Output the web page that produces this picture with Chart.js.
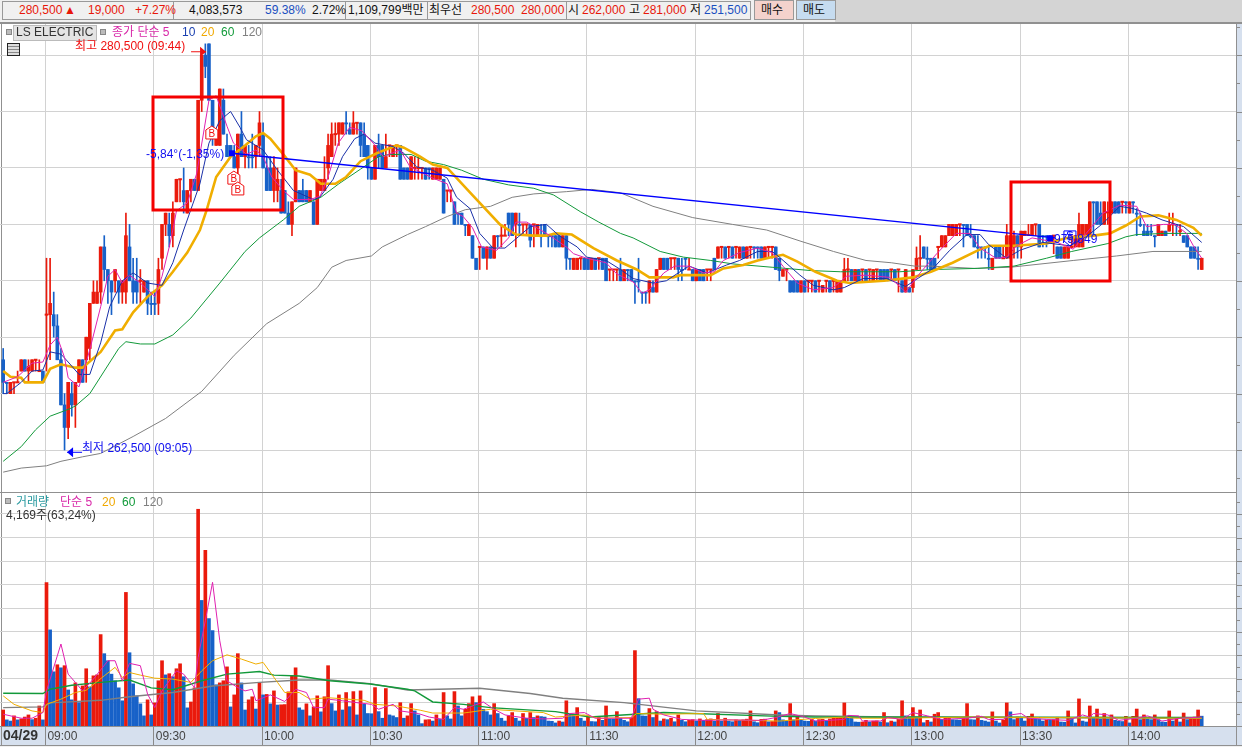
<!DOCTYPE html>
<html lang="ko"><head><meta charset="utf-8">
<script src="https://cdn.jsdelivr.net/npm/chart.js@4"></script>
<style>
html,body{margin:0;padding:0;background:#f0f0f0;width:1242px;height:747px;overflow:hidden}
body{position:relative;font:12px "Liberation Sans","Noto Sans CJK KR",sans-serif}
.a{position:absolute;white-space:nowrap;line-height:14px;height:14px}
.box{position:absolute}
canvas{position:absolute;left:0}
.r{color:#e8170a}.u{color:#1a4fc0}.k{color:#111}
</style></head><body>
<!-- panels -->
<div class="box" style="left:835px;top:0;width:407px;height:22px;background:#d4d4d4"></div>
<div class="box" style="left:0;top:22px;width:1242px;height:2px;background:#909090"></div>
<div class="box" style="left:0;top:24px;width:1237px;height:703px;background:#fff"></div>
<div class="box" style="left:1237px;top:24px;width:5px;height:721px;background:#d6e0ee"></div>
<div class="box" style="left:0;top:727px;width:1242px;height:18px;background:#d6e0ee"></div>
<div class="box" style="left:1px;top:24px;width:1px;height:721px;background:#909090"></div>
<div class="box" style="left:1236px;top:24px;width:1px;height:721px;background:#909090"></div>
<div class="box" style="left:0;top:745px;width:1242px;height:1px;background:#909090"></div>
<!-- toolbar cells -->
<div class="box" style="left:2px;top:1px;width:170px;height:17px;border:1px solid #999;background:#f0f0f0"></div>
<div class="box" style="left:173px;top:1px;width:171px;height:17px;border:1px solid #999;background:#f0f0f0"></div>
<div class="box" style="left:345px;top:1px;width:81px;height:17px;border:1px solid #999;background:#f0f0f0"></div>
<div class="box" style="left:427px;top:1px;width:139px;height:17px;border:1px solid #999;background:#f0f0f0"></div>
<div class="box" style="left:566px;top:1px;width:183px;height:17px;border:1px solid #999;background:#f0f0f0"></div>
<div class="box" style="left:754px;top:0;width:38px;height:18px;border:1px solid #999;background:#f4d2cc"></div>
<div class="box" style="left:796px;top:0;width:38px;height:18px;border:1px solid #999;background:#c6dcf0"></div>
<span class="a r" style="left:19px;top:3px">280,500</span><span class="a r" style="left:64px;top:3px">▲</span>
<span class="a r" style="left:88px;top:3px">19,000</span><span class="a r" style="left:135px;top:3px">+7.27%</span>
<span class="a k" style="left:189px;top:3px">4,083,573</span><span class="a u" style="left:265px;top:3px">59.38%</span>
<span class="a k" style="left:312px;top:3px">2.72%</span><span class="a k" style="left:348px;top:3px">1,109,799백만</span>
<span class="a k" style="left:429px;top:3px">최우선</span><span class="a r" style="left:471px;top:3px">280,500</span>
<span class="a r" style="left:521px;top:3px">280,000</span><span class="a k" style="left:568px;top:3px">시</span>
<span class="a r" style="left:582px;top:3px">262,000</span><span class="a k" style="left:629px;top:3px">고</span>
<span class="a r" style="left:643px;top:3px">281,000</span><span class="a k" style="left:690px;top:3px">저</span>
<span class="a u" style="left:704px;top:3px">251,500</span>
<span class="a k" style="left:761px;top:3px">매수</span><span class="a k" style="left:803px;top:3px">매도</span>

<canvas id="priceChart" width="1242" height="468" style="top:24px;z-index:1"></canvas>
<canvas id="volChart" width="1242" height="252" style="top:493px;z-index:1"></canvas>
<div class="box" style="left:0;top:492px;width:1237px;height:1px;background:#909090;z-index:2"></div>
<div class="box" style="left:0;top:726px;width:1242px;height:1px;background:#909090;z-index:2"></div>

<!-- legends and labels -->
<div style="position:absolute;left:0;top:0;z-index:3">
<div class="box" style="left:6px;top:29px;width:4px;height:4px;border:1px solid #888;background:#bbb"></div>
<div class="box" style="left:13px;top:25px;width:82px;height:14px;border:1px solid #bbb;background:#e4e4e4"></div>
<span class="a" style="left:16px;top:25px;color:#333">LS ELECTRIC</span>
<div class="box" style="left:100px;top:29px;width:4px;height:4px;border:1px solid #888;background:#bbb"></div>
<span class="a" style="left:112px;top:25px;color:#d828a8">종가 단순 5</span>
<span class="a" style="left:182px;top:25px;color:#1a40b0">10</span>
<span class="a" style="left:201px;top:25px;color:#f0a800">20</span>
<span class="a" style="left:221px;top:25px;color:#129a3a">60</span>
<span class="a" style="left:242px;top:25px;color:#808080">120</span>
<div class="box" style="left:7px;top:43px;width:11px;height:11px;border:1px solid #222;background:repeating-linear-gradient(#ddd 0 2px,#888 2px 3px)"></div>
<span class="a" style="left:75px;top:39px;color:#f01010">최고 280,500 (09:44)</span>
<span class="a" style="left:82px;top:441px;color:#1010f0">최저 262,500 (09:05)</span>
<span class="a" style="left:146px;top:147px;color:#1010f0">-5,84°(-1,35%)</span>
<span class="a" style="left:1054px;top:232px;color:#1010f0">975,849</span>
<div class="box" style="left:5px;top:498px;width:4px;height:4px;border:1px solid #888;background:#bbb"></div>
<span class="a" style="left:16px;top:495px;color:#2a9aa0">거래량</span>
<span class="a" style="left:60px;top:495px;color:#d828a8">단순 5</span>
<span class="a" style="left:102px;top:495px;color:#f0a800">20</span>
<span class="a" style="left:122px;top:495px;color:#129a3a">60</span>
<span class="a" style="left:143px;top:495px;color:#808080">120</span>
<span class="a" style="left:6px;top:508px;color:#333">4,169주(63,24%)</span>
<span class="a" style="left:3px;top:728px;color:#333;font-weight:bold;font-size:14px">04/29</span>
</div>

<script>
// Time axis: minutes after 09:00
const firstMinute = -12;
const timeTicks = [0,30,60,90,120,150,180,210,240,270,300];
const timeLabels = ["09:00","09:30","10:00","10:30","11:00","11:30","12:00","12:30","13:00","13:30","14:00"];
const priceTicks = [262.5,265,267.5,270,272.5,275,277.5,280];  // thousand won
const volTicks = [10,20,30,40,50,60,70,80,90];                 // thousand shares

const opens = [
266.5,265.5,265,265.5,265.5,266,266.5,266,266,266.5,
266,266,268.5,268.5,268.5,268,266.5,264.5,263.5,265,
264.5,265.5,266.5,266.5,267,269,269,269.5,271.5,270.5,
270,270,270,269.5,269.5,271.5,270,270,270,269.5,
270,269,269,269,271,272.5,272.5,272,273.5,274.5,
274,273,274,274.5,274,278,280,280.5,278,276,
276,278,276,276,275.5,275,276.5,275.5,275.5,275.5,
275.5,276,276.5,275,275,274,274,274,274,273,
272.5,273.5,274,274,274,273.5,273.5,272.5,274,274,
275,275.5,276.5,276.5,276.5,277,276.7,276.5,277,277,
276.5,276,275,274.5,276,276,275,276,275.5,276,
276,275,275,274.5,275,275,275,275,275,274.5,
274.5,274.5,274.5,274,274,273.5,273,273,272.5,272,
272,271,271.5,271.5,271,271.5,271,272,272,272,
273,273,272.5,272.5,272.5,272.5,272.5,272.5,272,272,
272.5,272,272,272,272,271.5,272,271,270.5,270.5,
271,271,271,270.5,271,271,271,271,270.5,270.5,
270.5,270.5,270,270.5,270.5,270,270,269.5,269.5,269.5,
269.7,269.5,270.5,271,271,271,271,271,270.5,271,
270.5,270.5,270,270.5,270.5,270.5,270.5,271,271,271.5,
271.5,271.5,271.5,271.5,271,271.5,271,271.5,271.5,271.5,
271.5,271,271.5,271.5,271.5,271,270.2,270.5,270,270,
270,269.5,270,270,270,270,270,269.5,270,270,
270,269.5,269.5,270,270.5,270.5,270,270.5,270.5,270.5,
270.5,270,270.5,270.5,270.5,270.5,270.5,270.5,270.5,270,
269.5,269.7,269.7,270.5,271,271.5,271,271,271,271.5,
271.5,271.5,272,272,272,272.5,272.5,272.5,272,272,
271.5,271.5,271.5,271,270.5,271.5,271.5,271,271,271,
271.5,272,271.5,272,272,272,272.5,272.5,272,272,
272,272,271.5,271.5,271,271,271.5,271.5,271.5,271.5,
272,272,273.5,273.5,273,272.5,273,273,273.5,273.5,
273.5,273.5,273,273.5,273,272.5,272.2,272.2,272.2,272,
272,272,272.2,272.2,272.5,272.5,272.2,272,272,271.5,
271.5,271,270.5];
const highs = [
267,265.5,265.5,265.5,266,266.5,266.5,266.5,266.5,266.5,
266.5,266,271,271,269.5,268.5,267,265,265.5,265.5,
265.5,266.5,266.5,267.5,269,270,270,271.5,272,270.5,
270,270.5,270,270,273,272.5,271,271,270.5,270,
270,269.5,269.5,271,272.5,273,273,273.5,274.5,274.5,
275,274,274.5,274.5,278,280,280.5,280.5,278,276.5,
278.5,278.5,276.5,276,276,276.5,277.5,276,276,276.5,
276,277.5,277,275.5,275.5,275.5,275,274.5,274,273.5,
273.5,275,274,274.5,274,274,273.5,274.5,274.5,275.5,
276.5,277,277,277,277,277.5,277,277.5,277,277,
277,276,275,276,276.5,276,276.5,276,276,276,
276,275,275,275.5,275.5,275.5,275,275,275,275,
275,275,274.5,274,274,273.5,273,273,272.5,272.5,
272,271,271.5,271.5,271.5,271.5,272,272,272.5,272.5,
273,273,273,273,272.5,272.5,272.5,272.5,272.5,272.5,
272.5,272,272,272,272,272,272,271,271,271,
271,271,271,271,271,271,271,271,270.5,270.5,
270.5,271,270.5,270.5,270.5,270,271,269.5,269.5,270,
270,270.5,271,271,271,271,271,271,271,271,
271,270.5,270.5,270.5,270.5,270.5,270.5,271,271.5,271.5,
271.5,271.5,271.5,271.5,271.5,271.5,271.5,271.5,271.5,271.5,
271.5,271.5,271.5,271.5,271.5,271,270.5,270.5,270,270,
270,270,270,270,270,270,270,269.8,270,270,
270,270,270,271,271,270.5,270.5,270.5,270.5,270.5,
270.5,270.5,270.5,270.5,270.5,270.5,270.5,270.5,270.5,270,
270.5,269.7,270.5,271.5,272,271.5,271.5,271,271,271.5,
272,272,272.5,272.5,272.5,272.5,272.5,272.5,272.5,272,
272,271.5,271.5,271.5,271,271.5,271.5,271.5,272.5,272,
272.2,272,272.2,272.2,272.5,272.5,272.5,272.5,272,272,
272,272,271.5,271.5,271.5,271.5,272,272,273,272.5,
272.5,273.5,273.5,273.5,273.5,273.5,273.5,273.5,273.5,273.5,
273.5,273.5,273.5,273.5,273.2,273,272.5,272.5,272.5,272,
272.5,272.2,272.2,273,273,272.5,272.5,272,272,271.5,
271.5,271.5,271];
const lows = [
265,265,265,265,265.5,266,266,265.5,266,266,
266,265.5,266,266.5,267.5,266.5,264.5,262.5,263,264,
263.5,265.5,265.5,265.5,266.5,269,269,269,270,269,
268.5,269.5,269,269,269,270,269,269,269,269.5,
268.5,268.5,268.5,268.5,270.5,272,271.5,271.5,273.5,273.5,
273,273,273.5,274,274,277.5,279,278,276,276,
276,276.5,275.5,275.5,275,274.5,275.5,275,275,275,
275,275.5,275,274,274,273.5,273.5,273,273,272.5,
272,273.5,273.5,273.5,273.5,273.5,272.5,272.5,274,274,
274.5,275.5,276,276,276.5,276.5,276.5,276.5,276.5,275.5,
275.5,274.5,274.5,274.5,275,275,275,275.5,275.5,275.5,
274.5,274.5,274.5,274.5,274.5,274.5,274.5,274.5,274.5,274.5,
274.5,274.5,273,273.5,273.5,272.5,272.5,272.5,272,272,
271,270.5,270.5,271,270.5,271,271,271.5,271.5,272,
272,272,271.5,272,272,272,271.5,271.5,272,271.5,
272,271.5,271.5,271.5,271.5,271.5,270.5,270.5,270.5,270.5,
270.5,270.5,270.5,270.5,270.5,270.5,270.5,270,270,270,
270,270,270,270,270,269,269.5,269,269,269,
269.5,269.5,270.5,270.5,270.5,270.5,270.5,270,270,270.5,
270.5,270,270,270,270,270,270,270.5,271,271,
271,271,271,271,271,271,271,271,271,271,
271,271,271,271,270.5,270,270.2,270,269.5,269.5,
269.5,269.5,269.5,269.5,269.5,269.5,269.5,269.5,269.5,269.5,
269.5,269.5,269.5,270,270,270,270,270,270,270,
270,270,270,270,270,270,270,270,269.5,269.5,
269.5,269.5,269.5,270.5,270.5,271,270.5,270.5,270.5,271,
271.5,271.5,272,272,272,272,271.5,272,271.9,271.5,
271,271,271,270.5,270.5,271,271,271,271,271,
271,271,271,272,272,272,272,271.5,271.5,271.5,
271.7,271.2,271,271,271,271,271.5,271.5,271.5,271.5,
272,272,272,272.5,272.5,272.5,272.5,273,273,273,
273,273,273,273,272,272.4,272,272,272,271.5,
272,272,272,272.2,272,272,272,271.7,271.5,271,
271,270.5,270.5];
const closes = [
265.5,265.45,265.5,265.5,265.5,266.5,266,266.2,266.5,266.5,
266,265.5,268.5,269,268,266.5,264.5,263.5,265.5,264.5,
265.5,266.5,265.5,267.5,269,269.5,269.5,271.5,270.5,270,
269.5,270.5,269.5,270,272,270,269.5,269.5,270,270,
269,268.95,268.95,270.5,272.5,273,272,273,274.5,274.5,
273.5,274,274.5,274,278,280,279.5,278,276.5,276.5,
278.5,276.5,275.5,275.5,275,276.5,275.5,276,275.45,275.45,
276,277,275,274,274,275,274.5,273,273,272.5,
273.5,275,273.5,273.5,273.5,274,272.5,274.5,274.5,274.5,
276,276.5,276.5,277,277,276.95,276.5,277,277,276,
275.5,275,274.5,276,275.5,275,275.5,276,276,276,
274.5,274.5,274.5,275.5,275,275,275,274.5,274.95,275,
275,275,273,274,274,272.5,272.95,272.5,272.45,272.5,
271,270.5,271.5,271,271.5,271,272,271.95,272,272,
272.5,272,273,272.45,272.5,272.5,271.8,272.5,272.5,271.95,
272,271.95,271.95,271.5,271.5,272,271,270.95,271,271,
271,270.5,270.5,271,270.5,271,270.5,270,270.5,270.5,
270.5,270,270.5,270.45,270,269.95,269.95,269.45,269.45,270,
269.5,270.5,271,270.5,270.5,271,271,270.5,270.45,270.95,
270.5,270,270.5,270,270,270.5,270.5,270.5,271.5,271.5,
271,271.5,271,271.5,271.5,271,271.5,271.5,271.45,271.45,
271,271.5,271.5,271.5,270.5,270.45,270.5,270.5,269.5,269.5,
269.5,270,269.5,270,270,269.5,270,269.8,270,269.5,
270,270,270,270.5,270.5,270,270.5,270,270.5,270,
270.5,270.5,270.5,270,270,270,270.5,270,270.5,269.5,
270.5,269.5,270.5,271,271,271,270.95,270.5,270.5,271.5,
272,272,272.5,272.5,272.5,272.5,272.45,272,271.95,271.5,
271.45,271.45,271.45,270.95,271,271,271,271,272,272,
272,271.5,272.2,272.2,272.05,272.5,272.5,271.5,271.95,271.95,
271.7,272,271,271,271.5,271.5,271.5,272,272.5,272.5,
272.5,273.5,273.45,272.5,272.5,273.5,273.05,273.5,273,273,
273.5,273.45,273.5,273.45,272.95,272.45,272,272,272.15,271.95,
272.5,272.2,272,272.5,272.5,272.45,272.2,271.7,271.5,271,
271,270.95,271];
const volumes = [
6.8,2.6,2.1,4.3,2.6,3.0,3.8,4.7,2.7,3.3,
8.5,2.6,60.9,40.8,23.0,26.0,24.7,25.6,15.3,11.1,
18.3,9.9,17.0,24.3,16.6,21.3,21.7,38.8,30.7,27.7,
22.0,19.2,16.2,10.7,56.7,31.1,17.9,12.8,9.4,4.3,
11.1,4.7,9.8,19.2,27.7,21.7,22.2,20.9,24.3,26.4,
20.9,7.7,10.2,16.2,92.0,53.3,74.6,45.6,40.5,17.5,
18.3,19.2,25.1,8.1,13.2,30.7,18.3,6.8,11.1,12.4,
7.2,18.3,13.2,13.4,9.4,14.9,8.9,9.0,9.1,14.5,
21.3,24.7,7.7,6.8,9.4,4.3,8.1,12.8,6.0,12.4,
25.6,9.5,6.4,13.2,6.8,14.2,8.2,14.6,4.7,14.9,
9.2,5.3,5.2,16.3,6.1,3.3,15.9,4.7,4.3,3.6,
9.9,3.3,4.3,9.5,6.4,4.7,1.0,2.6,2.7,2.1,
4.7,2.8,14.2,4.3,3.0,14.6,8.5,4.3,7.1,9.5,
12.4,9.9,12.8,7.1,6.1,4.7,9.5,5.3,3.3,2.1,
4.3,5.7,3.3,2.1,5.3,3.3,5.7,3.6,4.3,4.0,
3.8,2.1,2.0,1.3,2.1,1.7,10.7,5.0,4.9,7.8,
3.3,2.1,4.3,1.9,1.8,3.6,2.4,8.5,3.0,2.9,
6.1,3.3,2.4,1.8,3.6,32.0,11.6,4.3,4.2,7.4,
3.6,6.1,2.1,3.0,2.7,3.3,1.8,4.7,2.4,1.8,
2.4,2.7,2.1,3.0,2.4,2.7,3.0,2.0,5.3,2.1,
3.3,2.1,1.8,2.6,2.4,2.6,2.9,6.4,1.8,1.4,
2.8,2.9,1.8,1.9,6.4,5.7,2.6,2.1,9.5,2.6,
4.3,2.4,2.1,2.0,2.8,2.1,2.7,2.8,2.1,3.0,
3.3,3.4,3.5,9.8,4.3,3.8,1.7,1.6,1.7,2.4,
1.7,2.1,2.2,1.7,5.7,1.4,2.1,1.7,2.8,10.7,
4.3,3.8,7.8,3.8,6.8,1.4,2.4,1.7,5.0,5.7,
2.8,3.3,3.4,2.7,2.6,2.5,3.3,9.5,2.7,2.6,
4.3,2.4,2.1,1.7,6.0,2.1,1.3,2.6,9.8,6.0,
2.7,3.8,3.3,2.1,4.1,5.1,3.0,2.9,2.1,2.6,
2.4,2.7,3.7,1.7,1.6,6.4,3.3,1.3,11.5,2.1,
1.7,8.5,3.3,7.2,3.0,5.3,3.0,4.7,2.4,2.1,
1.9,4.1,1.3,4.1,7.2,2.7,4.7,3.0,2.7,4.7,
2.7,1.7,1.6,6.4,2.1,3.3,1.7,5.5,2.7,3.3,
3.8,6.8,4.169];

// Moving averages: [minute, price]
const ma5 = [[-12,265.5],[-8,265.75],[-4,266.35],[-1,266.4],[1,267.15],[3,267.5],[5,266.6],[6,265.7],[9,265.3],[12,266.95],[15,268.85],[17,270.2],[19,270.5],[21,269.9],[23,270.25],[26,269.9],[30,269.3],[32,270.2],[34,271.5],[35,272.25],[36,273.1],[39,273.45],[41.6,274.75],[43.5,276.55],[45,278],[47,278.2],[50,276.85],[51.8,276.1],[55.4,275.6],[58,275.8],[60,275.5],[62.4,274.6],[65.6,274],[68.4,273.6],[73,273.6],[75.8,273.75],[78,274.6],[80.8,276.1],[84,276.8],[87.3,276.65],[90.5,276.1],[93.3,275.5],[98,275.8],[100.7,275.05],[107,274.55],[111,274.3],[113.6,273],[115.4,272.85],[118,272.35],[120.5,271.5],[124.7,271.35],[128,271.9],[130,272.6],[133,272.6],[135.8,272.35],[139.5,272],[144,271.5],[146,271.2],[149.6,271],[155,270.8],[158,270.3],[162.5,269.95],[165,269.45],[167,269.6],[171,270.35],[174,270.65],[178,270.65],[182,270.35],[185,270.4],[187.5,270.9],[192,271.25],[197,271.45],[201,271.25],[204,270.65],[208,269.9],[212.4,269.6],[218,269.7],[221.6,270.2],[227,270.25],[233.6,270.15],[238,269.5],[242,270.35],[246.6,271.2],[252,272.1],[255.8,272.1],[258.6,271.45],[263,271],[266,271.05],[268.7,271.55],[273,271.9],[280,271.7],[284.4,271.4],[288,272.1],[292.7,273],[297.3,273.35],[302,273.3],[304.7,272.4],[309.4,272.5],[312.6,272.5],[315.8,272.1],[317.7,271.55],[320,271]];
const ma10 = [[-12,265],[-11,265],[-7,265.5],[-4,266],[-1,266.05],[1,266.85],[4,266.75],[6,266.4],[9,265.85],[12,265.85],[15,267.25],[17.5,268.85],[21,270],[24,270.35],[28,269.9],[32,269.8],[35,270.8],[38,272.25],[42.5,274.3],[45,276.1],[48,277.1],[51,277.5],[53.6,276.8],[55.4,276.25],[60,275.8],[64,274.9],[68.4,274],[74,273.6],[75.7,273.7],[79.4,274.5],[82,275.5],[85.4,276.3],[88,276.5],[91,276.1],[96,275.95],[99,275.65],[102.5,275.05],[107,274.9],[111,274.55],[113.6,273.7],[117.3,273.2],[120,272.1],[123.7,271.45],[127,271.45],[130.7,271.95],[134,272.4],[138.5,272.5],[142,272],[147,271.5],[149.6,271.05],[155,270.9],[159,270.5],[162.5,270.1],[168,269.9],[171.7,270],[175.5,270.4],[178,270.65],[183,270.35],[188.4,270.7],[192,270.9],[197,271.3],[201,271.3],[203,271.05],[208.7,270.25],[212.4,269.8],[218,269.6],[221,269.7],[226.2,270.1],[232.7,270.1],[238,269.75],[245.6,270.55],[250.2,271.35],[255,272.05],[258.6,272.05],[261,271.6],[266,271],[269.6,271.35],[276,271.7],[283.5,271.55],[288,271.95],[292.7,272.55],[297.3,273.3],[301,273.2],[304.7,273],[309,272.7],[315,272.4],[320,271.7]];
const ma20 = [[-12,266],[-10,265.75],[-7,265.7],[-6,265.5],[-1,265.5],[1,266.1],[4,266.3],[8,266.15],[10,266.15],[15,266.85],[19,267.8],[21,267.85],[24,268.6],[28,269.3],[32,269.8],[35,270.4],[39,271.25],[42.5,272.25],[44.4,273.15],[47,274.6],[51,275.5],[55,276],[58,276.4],[60,276.55],[62,276.3],[65.6,275.6],[69,274.9],[73,274.7],[76,274.3],[80,274.3],[83,274.6],[87,275.3],[91.5,275.65],[97,276],[99,275.9],[103.5,275.5],[107,275.15],[111,275],[118,273.8],[125.6,272.5],[130,272.05],[135,272],[138.5,272],[141,272.1],[145.5,272.05],[151.5,271.45],[158,270.9],[163.5,270.5],[167,270.15],[173.6,270.15],[175.5,270.25],[184,270.25],[187.5,270.55],[193,270.7],[197,270.9],[201,271.05],[204,271.15],[208,270.85],[213,270.4],[219,270],[222.5,269.9],[232,270],[240,270.15],[245,270.4],[251,270.8],[258,271.35],[261.3,271.55],[268,271.55],[277,271.65],[282.6,271.9],[290,272],[294.6,272.1],[299,272.45],[303,272.85],[308,272.9],[313,272.7],[317.7,272.35],[320,272]];
const ma60 = [[-12,262],[-7,262.65],[-3,263.4],[1,264],[6,264.3],[8,264.45],[12,265],[16,266],[20,267],[22,267.3],[26,267.2],[30,267.2],[35,267.6],[40,268.35],[48,269.9],[55,271.3],[59,271.9],[65.6,272.7],[70,273.3],[76,273.7],[81,274.3],[87,274.95],[92,275.5],[95,275.6],[101,275.6],[105,275.3],[110,275.15],[115,274.9],[121,274.5],[128,274.25],[135,274.1],[140.5,273.8],[148,273.05],[153,272.6],[159,272.1],[162.5,271.9],[170,271.3],[176.4,271.05],[184,270.9],[190,270.75],[201,270.6],[212,270.45],[220,270.4],[236.4,270.4],[245.6,270.5],[258,270.55],[268,270.65],[277,271],[284,271.3],[294,271.65],[299,271.95],[302,272.05],[310,272.1],[320,272.1]];
const ma120 = [[-12,261.52],[-7,261.7],[0,261.8],[4,262],[10,262.2],[15,262.35],[24,263.1],[33,263.9],[43,265.1],[52,266.7],[61,268.1],[70,269],[75,269.7],[79,270.6],[83,270.9],[90,271.1],[93,271.5],[100,272.05],[105,272.4],[111,272.85],[116,273.15],[123,273.3],[129,273.7],[135,273.85],[144,273.95],[151,274.05],[159,273.9],[168,273.3],[179,272.8],[190,272.5],[199.5,272.25],[209,271.75],[218,271.3],[227,270.9],[234,270.8],[240.5,270.65],[245,270.65],[257,270.55],[267,270.6],[284.4,270.9],[296.4,271.1],[306.5,271.3],[320,271.3]];
const trendLine = [[51.4,275.65],[279.4,271.9]];

// Volume moving averages: [minute, thousand shares]
const volMa5 = [[-12,5],[-7,3.3],[-4,3.3],[-1,5.7],[0,14.9],[4,34.8],[6,22],[8,18.5],[10,14.9],[13,19.9],[17,27.7],[19,27.7],[21,19.2],[23,26.6],[26,25.6],[28,13.5],[30,7.8],[32,14.9],[36,23.4],[38,22],[41,16.3],[42,29.1],[44,44.7],[46,61],[48,36.2],[50,19.2],[53,16.3],[55,14.9],[57,15.6],[58,10.7],[62,13.2],[66,10.4],[69,15.6],[72,14.2],[74,7.8],[77,7.8],[78,11.4],[82,10.7],[86,9.9],[90,9.2],[92,7.1],[96,9.2],[98,6.4],[103,5.3],[106,3.8],[110,2.8],[113,7.8],[115.5,7.1],[121,10.2],[124,7.1],[127,4.7],[133,3.3],[138,3],[143,3.3],[145,5.3],[149,5.7],[152,3.3],[155,3.3],[162,3.3],[164,11.4],[167,11.8],[168,7.1],[171,4.7],[176,2.8],[182,2.4],[189,2.6],[198,2.4],[202,3.6],[206,5.3],[210,3.8],[213,2.1],[221,2.8],[222,4.5],[225,4.3],[226,2.1],[231,2.1],[233,3.6],[237,2.8],[240,5.7],[244,4.3],[248,2.8],[255,3.3],[259,4.1],[261,2.7],[265,2.8],[267,4.7],[270,5.3],[272,3.3],[277,2.8],[283,2.4],[287,4.7],[289,3.8],[290,5.3],[294,4.7],[297,2.4],[302,3.3],[305,4.3],[309,2.1],[314,3.3],[320,3.8]];
const volMa20 = [[-12,12.8],[-9,9.2],[-4,6.4],[-1,5.7],[0,9.2],[4,11.4],[8,14.2],[11,15.2],[16,21.3],[19,24.9],[21,20.6],[23,22.7],[26,21.6],[30,20.3],[35,19.9],[40,18.5],[43,23.4],[46,27.7],[50,30.2],[54,28.4],[58,26.3],[60,27],[64,18.5],[66,14.2],[70,14.2],[73,11.4],[78,12],[88,10.9],[91,9.2],[97,8.5],[103.5,6.7],[107,5.5],[115.5,5.5],[123,7.1],[130,6.4],[137.6,5.7],[141,3.8],[149,4.7],[153,3.3],[162,3.6],[163.5,5.3],[171,5],[182,5.3],[183,2.8],[203,2.1],[213,3.2],[221,3.8],[224,3.3],[236,3.3],[256,3.8],[275,3.6],[320,3.3]];
const volMa60 = [[-12,13.9],[-1,13.8],[1,15.6],[7,17.3],[15,18.5],[23,19.5],[29,16.2],[35,15.4],[43,19.2],[50,22],[59,23.1],[63,21.6],[70,21.2],[78.5,19.2],[89.6,17.8],[100,15.6],[102,14.9],[107,10.2],[115.5,9.2],[123,7.8],[141,6.1],[150.5,3.8],[171,5.7],[203,4.1],[213,3.8],[320,3.6]];
const volMa120 = [[-12,7.8],[-1,8.1],[1,9.8],[15,10.9],[23,12.4],[35,14.2],[46,17],[59,18.5],[70,19.5],[78.5,19.5],[89.6,18],[100,15.3],[120,16],[134,13.8],[143,11.8],[160,9.9],[180,6.4],[203,4.7],[213,4.3],[234,3.8],[320,3.3]];

// Annotations placed in data units
const redBoxes = [[29.5,65.5,278.15,273.14],[267.2,294.6,274.38,269.99]];  // minute from, to, price top, bottom
const buyMarks = [[45.8,276.55],[51.9,274.55],[53,274.07]];
const trendSquares = [[51.4,275.65],[278,271.88]];
const dollarMark = [283.5,271.9];
const highArrow = [44.2,280.15];
const lowArrow = [5.7,262.4];

const RED="#ea1a0c", BLUE="#1761c8";
const xs = closes.map((_,i)=>i+firstMinute);
const pts = a => a.map(p=>({x:p[0],y:p[1]}));
const line = (a,c,w,o)=>({type:"line",data:pts(a),borderColor:c,borderWidth:w,pointRadius:0,tension:0,order:o,fill:false});
const xRange = {type:"linear",min:-12.881,max:329.5,offset:false};
const gridC = "#d2d2d2";

function xScaleOpts(extra){
  return Object.assign({},xRange,{
    afterBuildTicks:s=>{s.ticks=timeTicks.map(v=>({value:v-0.3}));},
    grid:{color:gridC,lineWidth:1,drawTicks:false,offset:false},border:{display:false}
  },extra||{});
}
function yFit(s){s.width=0;}

function rightTicks(minor){
  return c=>{
    const g=c.ctx, s=c.scales.y; g.save(); g.strokeStyle="#8a8a8a"; g.lineWidth=1; g.beginPath();
    for(let k=0;;k++){
      const v=minor.start+k*minor.step;
      if(v>minor.end)break;
      const p=Math.round(s.getPixelForValue(v))+.5;
      if(p<1)continue;
      g.moveTo(1237,p); g.lineTo(k%2===0?1242:1240,p);
    }
    g.stroke(); g.restore();
  };
}

const annot = {id:"annot",afterDatasetsDraw(c){
  const g=c.ctx, X=c.scales.x, Y=c.scales.y; g.save();
  const house=(px,py,col)=>{
    g.beginPath(); g.moveTo(px,py-7); g.lineTo(px+6,py-3); g.lineTo(px+6,py+6); g.lineTo(px-6,py+6); g.lineTo(px-6,py-3); g.closePath();
    g.fillStyle="#fff"; g.fill(); g.strokeStyle=col; g.lineWidth=1; g.stroke();
  };
  buyMarks.forEach(b=>{const px=X.getPixelForValue(b[0]),py=Y.getPixelForValue(b[1]);house(px,py,"#f01010");
    g.fillStyle="#f01010";g.font='10px "Liberation Sans"';g.textAlign="center";g.textBaseline="middle";g.fillText("B",px,py+1);});
  g.fillStyle="#0000ff";
  trendSquares.forEach(b=>{g.fillRect(X.getPixelForValue(b[0])-3,Y.getPixelForValue(b[1])-3,6,6);});
  {const px=X.getPixelForValue(dollarMark[0]),py=Y.getPixelForValue(dollarMark[1]);
   g.beginPath();g.moveTo(px-6,py-7);g.lineTo(px+6,py-7);g.lineTo(px+6,py+3);g.lineTo(px,py+8);g.lineTo(px-6,py+3);g.closePath();
   g.strokeStyle="#0000ff";g.lineWidth=1;g.stroke();g.fillStyle="#0000ff";g.font='12px "Liberation Sans"';g.textAlign="center";g.textBaseline="middle";g.fillText("$",px,py-1);}
  g.strokeStyle="#f40000"; g.lineWidth=3;
  redBoxes.forEach(b=>{const x0=X.getPixelForValue(b[0]),x1=X.getPixelForValue(b[1]),y0=Y.getPixelForValue(b[2]),y1=Y.getPixelForValue(b[3]);
    g.strokeRect(Math.round(x0),Math.round(y0),Math.round(x1-x0),Math.round(y1-y0));});
  const arrow=(tip,col,dir)=>{const px=X.getPixelForValue(tip[0]),py=Y.getPixelForValue(tip[1]);
    g.strokeStyle=col;g.fillStyle=col;g.lineWidth=1;g.beginPath();g.moveTo(px,py);g.lineTo(px-dir*15,py);g.stroke();
    g.beginPath();g.moveTo(px,py);g.lineTo(px-dir*6,py-5);g.lineTo(px-dir*6,py+5);g.closePath();g.fill();};
  arrow(highArrow,"#f01010",1); arrow(lowArrow,"#0000ff",-1);
  g.restore();
}};

const priceTickPlugin={id:"pt",afterDraw:rightTicks({start:260,end:281.25,step:1.25})};
const volTickPlugin={id:"vt",afterDraw:rightTicks({start:0,end:95,step:5})};

new Chart(document.getElementById("priceChart"),{
  data:{datasets:[
    {type:"bar",label:"wick",data:xs.map((x,i)=>({x,y:[lows[i],highs[i]]})),barThickness:1,grouped:false,order:9,
     backgroundColor:xs.map((_,i)=>closes[i]<opens[i]?BLUE:RED)},
    {type:"bar",label:"body",data:xs.map((x,i)=>({x,y:opens[i]===closes[i]?[opens[i]-0.03,opens[i]+0.03]:[Math.min(opens[i],closes[i]),Math.max(opens[i],closes[i])]})),barThickness:3,grouped:false,order:8,
     backgroundColor:xs.map((_,i)=>closes[i]<opens[i]?BLUE:RED)},
    line(ma120,"#808080",1,7),
    line(ma60,"#12993a",1,6),
    line(ma20,"#f0ae00",2.6,5),
    line(ma10,"#1a30a8",1,4),
    line(ma5,"#e020b0",1,3),
    line(trendLine,"#0000ff",1.4,2)
  ]},
  options:{responsive:false,animation:false,events:[],devicePixelRatio:1,
    layout:{padding:{left:0,right:6,top:0,bottom:0}},
    plugins:{legend:{display:false},tooltip:{enabled:false}},
    scales:{
      x:xScaleOpts({ticks:{display:false},afterFit:s=>{s.height=0;}}),
      y:{min:260.64,max:281.38,afterBuildTicks:s=>{s.ticks=priceTicks.map(v=>({value:v}));},
         ticks:{display:false},grid:{color:gridC,lineWidth:1,drawTicks:false},border:{display:false},afterFit:yFit}
    }},
  plugins:[annot,priceTickPlugin]
});

new Chart(document.getElementById("volChart"),{
  data:{datasets:[
    {type:"bar",label:"volume",data:xs.map((x,i)=>({x,y:volumes[i]})),barThickness:3,grouped:false,order:9,
     backgroundColor:xs.map((_,i)=>i===0||volumes[i]>=volumes[i-1]?RED:BLUE)},
    line(volMa120,"#808080",1.4,6),
    line(volMa60,"#12993a",1.4,5),
    line(volMa20,"#f0ae00",1,4),
    line(volMa5,"#e020b0",1,3)
  ]},
  options:{responsive:false,animation:false,events:[],devicePixelRatio:1,
    layout:{padding:{left:0,right:6,top:0,bottom:0}},
    plugins:{legend:{display:false},tooltip:{enabled:false}},
    scales:{
      x:xScaleOpts({
        grid:{color:gridC,lineWidth:1,tickColor:"#8a8a8a",tickLength:19,offset:false},
        ticks:{autoSkip:false,maxRotation:0,minRotation:0,padding:-16,labelOffset:17,color:"#444",
               font:{size:12,family:'"Liberation Sans"'},
               callback:v=>timeLabels[timeTicks.indexOf(Math.round(v+0.3))]},
        afterFit:s=>{s.height=19;}}),
      y:{min:0,max:98.9,afterBuildTicks:s=>{s.ticks=volTicks.map(v=>({value:v}));},
         ticks:{display:false},grid:{color:gridC,lineWidth:1,drawTicks:false},border:{display:false},afterFit:yFit}
    }},
  plugins:[volTickPlugin]
});
</script>
</body></html>
